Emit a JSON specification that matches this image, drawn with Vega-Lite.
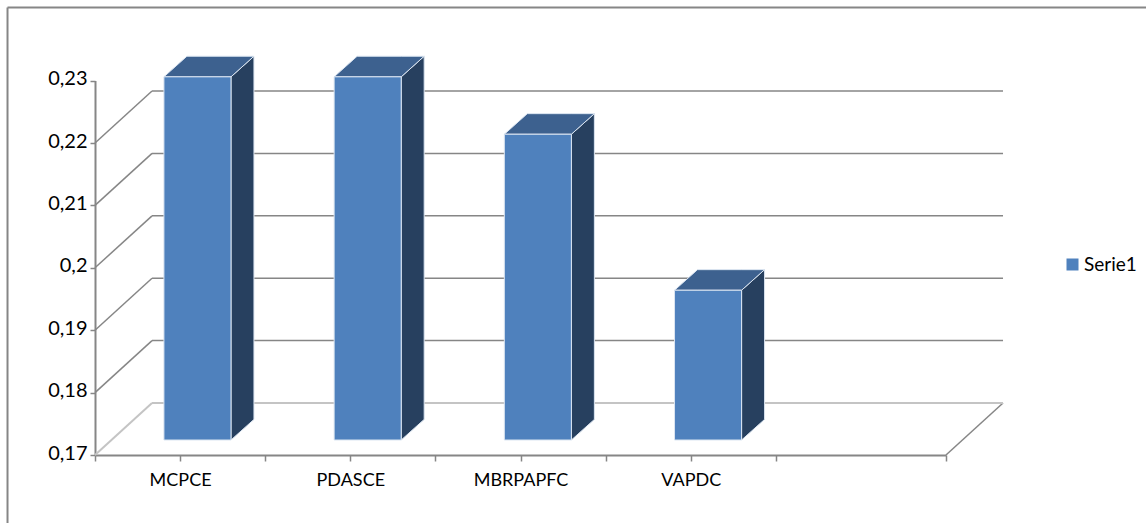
{
"$schema":"https://vega.github.io/schema/vega-lite/v6.json",
"width":1146,"height":523,"autosize":"none","padding":0,"background":"#ffffff",
"view":{"stroke":null},
"config":{"font":"Lato"},
"datasets":{
"frame":[{"x":-0.514,"x2":6.2,"y":0.2417,"y2":0.2417},{"x":-0.514,"x2":-0.514,"y":0.2417,"y2":0.159}],
"grid":[{"nivel":0.18},{"nivel":0.19},{"nivel":0.2},{"nivel":0.21},{"nivel":0.22}],
"diag":[{"x":0,"x2":0.335,"y":0.18,"y2":0.18833},{"x":0,"x2":0.335,"y":0.19,"y2":0.19833},{"x":0,"x2":0.335,"y":0.2,"y2":0.20833},{"x":0,"x2":0.335,"y":0.21,"y2":0.21833},{"x":0,"x2":0.335,"y":0.22,"y2":0.22833},{"x":5,"x2":5.335,"y":0.17,"y2":0.17833}],
"floor":[{"x":0,"x2":0.335,"y":0.17,"y2":0.17833},{"x":0.335,"x2":5.335,"y":0.17833,"y2":0.17833}],
"bars":[
{"categoria":"MCPCE","serie":"Serie1","inicio":0.405,"fin":0.799,"valor":0.2282},
{"categoria":"PDASCE","serie":"Serie1","inicio":1.405,"fin":1.799,"valor":0.2282},
{"categoria":"MBRPAPFC","serie":"Serie1","inicio":2.405,"fin":2.799,"valor":0.219},
{"categoria":"VAPDC","serie":"Serie1","inicio":3.405,"fin":3.799,"valor":0.194}],
"side":[
{"categoria":"MCPCE","x":0.799,"low":0.17,"high":0.2282},{"categoria":"MCPCE","x":0.934,"low":0.1733,"high":0.2315},
{"categoria":"PDASCE","x":1.799,"low":0.17,"high":0.2282},{"categoria":"PDASCE","x":1.934,"low":0.1733,"high":0.2315},
{"categoria":"MBRPAPFC","x":2.799,"low":0.17,"high":0.219},{"categoria":"MBRPAPFC","x":2.934,"low":0.1733,"high":0.2223},
{"categoria":"VAPDC","x":3.799,"low":0.17,"high":0.194},{"categoria":"VAPDC","x":3.934,"low":0.1733,"high":0.1973}],
"top":[
{"categoria":"MCPCE","x":0.405,"low":0.2282,"high":0.2282},{"categoria":"MCPCE","x":0.54,"low":0.2282,"high":0.2315},{"categoria":"MCPCE","x":0.799,"low":0.2282,"high":0.2315},{"categoria":"MCPCE","x":0.934,"low":0.2315,"high":0.2315},
{"categoria":"PDASCE","x":1.405,"low":0.2282,"high":0.2282},{"categoria":"PDASCE","x":1.54,"low":0.2282,"high":0.2315},{"categoria":"PDASCE","x":1.799,"low":0.2282,"high":0.2315},{"categoria":"PDASCE","x":1.934,"low":0.2315,"high":0.2315},
{"categoria":"MBRPAPFC","x":2.405,"low":0.219,"high":0.219},{"categoria":"MBRPAPFC","x":2.54,"low":0.219,"high":0.2223},{"categoria":"MBRPAPFC","x":2.799,"low":0.219,"high":0.2223},{"categoria":"MBRPAPFC","x":2.934,"low":0.2223,"high":0.2223},
{"categoria":"VAPDC","x":3.405,"low":0.194,"high":0.194},{"categoria":"VAPDC","x":3.54,"low":0.194,"high":0.1973},{"categoria":"VAPDC","x":3.799,"low":0.194,"high":0.1973},{"categoria":"VAPDC","x":3.934,"low":0.1973,"high":0.1973}]
},
"resolve":{"scale":{"y":"independent"}},
"encoding":{"x":{"type":"quantitative","title":null,"scale":{"domain":[0,5],"range":[95,946],"nice":false,"zero":false},
   "axis":{"values":[0,0.5,1,1.5,2,2.5,3,3.5,4,5],"offset":-68,"grid":false,"domainColor":"#868686","domainWidth":2,"tickColor":"#868686","tickWidth":1.5,"tickSize":6,"labelFont":"Lato","labelFontSize":18,"labelColor":"#000000","labelPadding":10,"labelAngle":0,"labelOverlap":false,"labelFlush":false,
    "labelExpr":"datum.value==0.5?'MCPCE':datum.value==1.5?'PDASCE':datum.value==2.5?'MBRPAPFC':datum.value==3.5?'VAPDC':''",
    "encode":{"ticks":{"update":{"opacity":{"signal":"datum.value%1==0?1:0"}}}}}}},
"layer":[
{"data":{"name":"frame"},"mark":{"type":"rule","color":"#868686","strokeWidth":2},
 "encoding":{
  "x":{"field":"x"},
  "x2":{"field":"x2"},
  "y":{"field":"y","type":"quantitative","title":null,"scale":{"domain":[0.17,0.23],"range":[455,80.6],"nice":false,"zero":false},
   "axis":{"values":[0.17,0.18,0.19,0.2,0.21,0.22,0.23],"offset":-95,"grid":false,"domainColor":"#868686","domainWidth":2,"tickColor":"#868686","tickWidth":1.5,"tickSize":5,"labelFont":"Lato","labelFontSize":20,"labelColor":"#000000","labelPadding":3,"labelOffset":-2,"labelExpr":"replace(format(datum.value,'.2~f'),'.',',')",
    "encode":{"ticks":{"update":{"opacity":{"signal":"datum.value<0.225?1:0"}}}}}},
  "y2":{"field":"y2"}}},
{"data":{"name":"diag"},"mark":{"type":"rule","color":"#868686","strokeWidth":1.5},
 "encoding":{"x":{"field":"x"},"x2":{"field":"x2"},
  "y":{"field":"y","type":"quantitative","axis":null,"scale":{"domain":[0.17,0.23],"range":[455,80.6],"nice":false,"zero":false}},"y2":{"field":"y2"}}},
{"data":{"name":"floor"},"mark":{"type":"rule","color":"#c4c4c4","strokeWidth":2},
 "encoding":{"x":{"field":"x"},"x2":{"field":"x2"},
  "y":{"field":"y","type":"quantitative","axis":null,"scale":{"domain":[0.17,0.23],"range":[455,80.6],"nice":false,"zero":false}},"y2":{"field":"y2"}}},
{"data":{"name":"grid"},"mark":{"type":"rule","color":"#868686","strokeWidth":1.5},
 "encoding":{"x":{"datum":0.335},"x2":{"datum":5.335},
  "y":{"field":"nivel","type":"quantitative","axis":null,"scale":{"domain":[0.17,0.23],"range":[403,28.6],"nice":false,"zero":false}}}},
{"data":{"name":"side"},"mark":{"type":"area","color":"#27405f","stroke":"#dbe5f1","strokeWidth":1},
 "encoding":{"x":{"field":"x"},
  "y":{"field":"low","type":"quantitative","axis":null,"scale":{"domain":[0.17,0.23],"range":[440,65.6],"nice":false,"zero":false}},"y2":{"field":"high"},"detail":{"field":"categoria"}}},
{"data":{"name":"top"},"mark":{"type":"area","color":"#3d618f","stroke":"#dbe5f1","strokeWidth":1},
 "encoding":{"x":{"field":"x"},
  "y":{"field":"low","type":"quantitative","axis":null,"scale":{"domain":[0.17,0.23],"range":[440,65.6],"nice":false,"zero":false}},"y2":{"field":"high"},"detail":{"field":"categoria"}}},
{"data":{"name":"bars"},"mark":{"type":"rect","stroke":"#dbe5f1","strokeWidth":1},
 "encoding":{"x":{"field":"inicio"},"x2":{"field":"fin"},
  "y":{"field":"valor","type":"quantitative","axis":null,"scale":{"domain":[0.17,0.23],"range":[440,65.6],"nice":false,"zero":false}},"y2":{"datum":0.17},
  "color":{"field":"serie","type":"nominal","scale":{"range":["#4f81bd"]},
   "legend":{"title":null,"orient":"none","legendX":1063,"legendY":255,"symbolType":"square","symbolSize":144,"symbolStrokeWidth":0,"labelFont":"Lato","labelFontSize":19,"labelColor":"#000000","labelOffset":2}}}}
]
}
